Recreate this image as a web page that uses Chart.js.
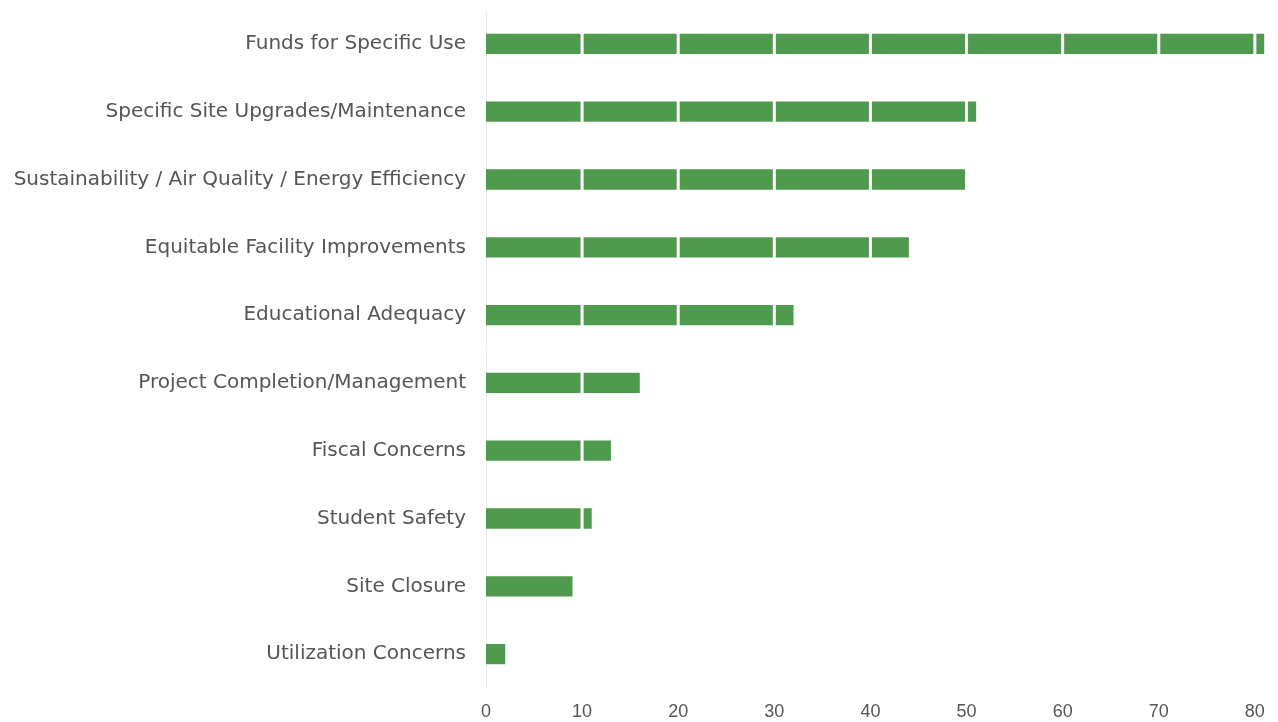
<!DOCTYPE html>
<html>
<head>
<meta charset="utf-8">
<script src="https://cdn.jsdelivr.net/npm/chart.js@4/dist/chart.umd.min.js"></script>
<style>
    html, body { margin: 0; padding: 0; background: #fff; }
    #wrap { width: 1278px; height: 722px; position: relative; }
</style>
</head>
<body>
<div id="wrap"><canvas id="topicChart"></canvas></div>
<script>
// Categories (top to bottom) and their counts
const categories = [
    "Funds for Specific Use",
    "Specific Site Upgrades/Maintenance",
    "Sustainability / Air Quality / Energy Efficiency",
    "Equitable Facility Improvements",
    "Educational Adequacy",
    "Project Completion/Management",
    "Fiscal Concerns",
    "Student Safety",
    "Site Closure",
    "Utilization Concerns"
];
const counts = [81, 51, 50, 44, 32, 16, 13, 11, 9, 2];

// x axis ticks
const tickStep = 10;
const tickMax = 80;

// White grid lines painted on top of the bars
const overGrid = {
    id: 'overGrid',
    afterDatasetsDraw(chart) {
        const ctx = chart.ctx;
        const x = chart.scales.x;
        const area = chart.chartArea;
        ctx.save();
        ctx.strokeStyle = '#ffffff';
        ctx.lineWidth = 3;
        x.ticks.forEach(t => {
            if (t.value === 0) return;
            const px = x.getPixelForValue(t.value);
            ctx.beginPath();
            ctx.moveTo(px, area.top);
            ctx.lineTo(px, area.bottom);
            ctx.stroke();
        });
        ctx.restore();
    }
};

const ctx = document.getElementById('topicChart').getContext('2d');
new Chart(ctx, {
    type: 'bar',
    data: {
        labels: categories,
        datasets: [{
            data: counts,
            backgroundColor: '#4f9a4f',
            borderWidth: 0,
            categoryPercentage: 1,
            barPercentage: 0.3
        }]
    },
    options: {
        indexAxis: 'y',
        responsive: true,
        maintainAspectRatio: false,
        animation: false,
        layout: { padding: { top: 0, right: 10, bottom: 0, left: 0 } },
        plugins: {
            legend: { display: false },
            tooltip: { enabled: false }
        },
        scales: {
            x: {
                min: 0,
                max: 81,
                grid: { display: false, drawTicks: false, tickLength: 0 },
                border: { display: false },
                afterFit: scale => { scale.height = 34; },
                ticks: {
                    stepSize: tickStep,
                    includeBounds: false,
                    padding: 13,
                    color: '#555',
                    font: { family: 'Liberation Sans', size: 18 },
                    callback: v => (v <= tickMax ? v : '')
                }
            },
            y: {
                grid: { display: false, drawTicks: false, tickLength: 0 },
                border: { display: true, color: '#ececec', width: 1 },
                afterFit: scale => {
                    scale.width = 486;
                    scale.paddingTop = 10;
                    scale.paddingBottom = 0;
                },
                ticks: {
                    padding: 20,
                    color: '#555',
                    font: { family: 'DejaVu Sans', size: 20 }
                }
            }
        }
    },
    plugins: [overGrid]
});
</script>
</body>
</html>
